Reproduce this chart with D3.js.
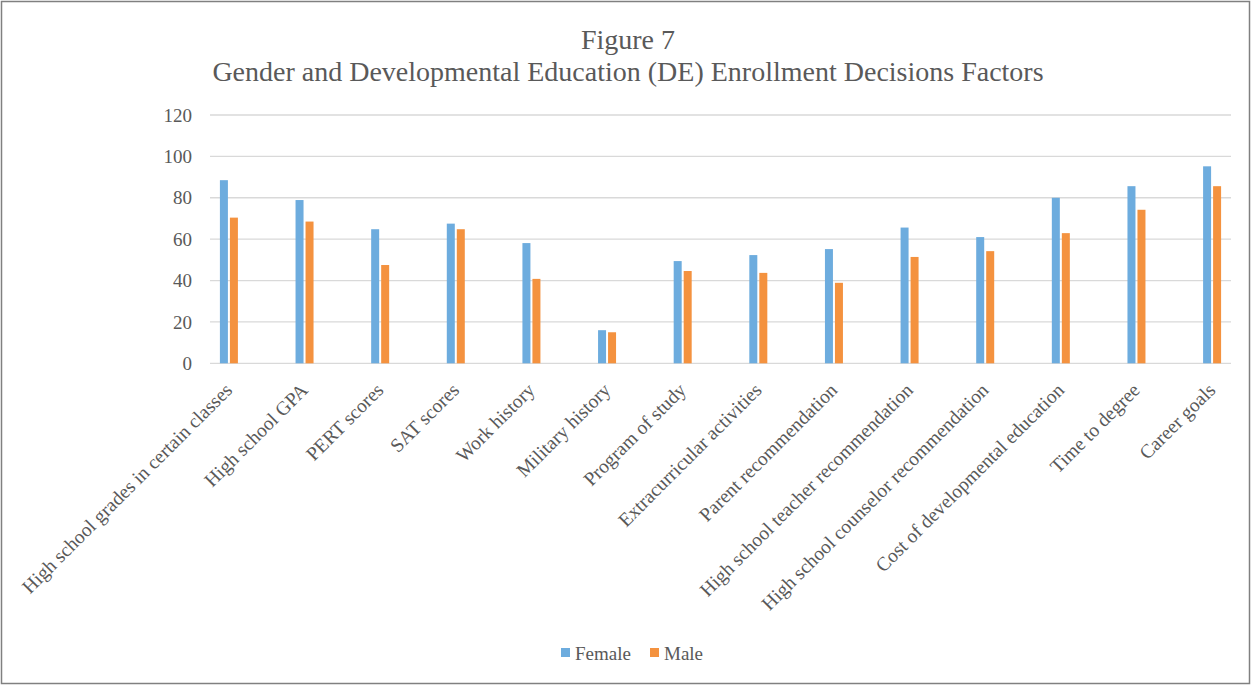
<!DOCTYPE html>
<html>
<head>
<meta charset="utf-8">
<script src="https://cdn.jsdelivr.net/npm/d3@7"></script>
<style>
  html, body { margin: 0; padding: 0; background: #fff; }
  svg { display: block; }
  svg text { font-family: "Liberation Serif", "Times New Roman", serif !important; }
</style>
</head>
<body>
<svg id="chart" width="1252" height="686"></svg>
<script>
// Enrollment decision factors, percent of respondents by gender
const categories = [
  "High school grades in certain classes",
  "High school GPA",
  "PERT scores",
  "SAT scores",
  "Work history",
  "Military history",
  "Program of study",
  "Extracurricular activities",
  "Parent recommendation",
  "High school teacher recommendation",
  "High school counselor recommendation",
  "Cost of developmental education",
  "Time to degree",
  "Career goals"
];
const seriesNames = ["Female", "Male"];
const female = [88.5, 78.9, 64.8, 67.5, 58.1, 16.0, 49.4, 52.3, 55.2, 65.6, 61.0, 80.0, 85.6, 95.2];
const male   = [70.4, 68.5, 47.5, 64.8, 40.8, 15.0, 44.6, 43.7, 38.9, 51.4, 54.2, 62.9, 74.2, 85.6];
const yTicks = [0, 20, 40, 60, 80, 100, 120];
const titleLines = ["Figure 7", "Gender and Developmental Education (DE) Enrollment Decisions Factors"];

const colors = { Female: "#6DACDE", Male: "#F4923F" };
const textColor = "#595959";
const serif = "'Liberation Serif', 'Times New Roman', serif";

const svg = d3.select("#chart");
const W = 1252, H = 686;
const plot = { left: 210, right: 1231, top: 115, bottom: 363.3 };

// outer frame
svg.append("rect")
  .attr("x", 1.5).attr("y", 1.5)
  .attr("width", W - 4).attr("height", H - 4)
  .attr("fill", "#fff").attr("stroke", "#808080").attr("stroke-width", 1.5);

// title
const title = svg.append("text")
  .attr("text-anchor", "middle")
  .attr("fill", textColor)
  .style("font-family", serif)
  .attr("font-size", 28);
titleLines.forEach((t, i) => {
  title.append("tspan").attr("x", 628).attr("y", 49 + i * 32).text(t);
});

const x = d3.scalePoint().domain(categories).range([plot.left, plot.right]).padding(0.25);
const xs = d3.scaleBand().domain(seriesNames).range([-9, 9]).paddingInner(0.2);
const y = d3.scaleLinear().domain([0, 120]).range([plot.bottom, plot.top]);

// horizontal gridlines
svg.append("g")
  .selectAll("line")
  .data(yTicks)
  .join("line")
  .attr("x1", plot.left).attr("x2", plot.right)
  .attr("y1", d => y(d)).attr("y2", d => y(d))
  .attr("stroke", "#D9D9D9").attr("stroke-width", 1.3);

// y axis labels
const yAxis = svg.append("g")
  .attr("transform", `translate(${plot.left - 18},0)`)
  .call(d3.axisLeft(y).tickValues(yTicks).tickSize(0).tickPadding(0));
yAxis.attr("font-family", null).attr("font-size", null);
yAxis.select(".domain").remove();
yAxis.selectAll("text")
  .attr("fill", textColor)
  .attr("font-size", 19)
  .style("font-family", serif);

// bars
const rows = categories.map((c, i) => ({ cat: c, values: [
  { s: "Female", v: female[i] },
  { s: "Male", v: male[i] }
]}));

const groups = svg.append("g")
  .selectAll("g")
  .data(rows)
  .join("g")
  .attr("transform", d => `translate(${x(d.cat)},0)`);

groups.selectAll("rect")
  .data(d => d.values)
  .join("rect")
  .attr("x", d => xs(d.s))
  .attr("width", xs.bandwidth())
  .attr("y", d => y(d.v))
  .attr("height", d => y(0) - y(d.v))
  .attr("fill", d => colors[d.s]);

// category labels, rotated
const xAxis = svg.append("g")
  .attr("transform", `translate(0,${plot.bottom})`)
  .call(d3.axisBottom(x).tickSize(0).tickPadding(0));
xAxis.attr("font-family", null).attr("font-size", null);
xAxis.select(".domain").remove();
xAxis.selectAll("text")
  .attr("fill", textColor)
  .attr("font-size", 19.5)
  .style("font-family", serif)
  .attr("text-anchor", "end")
  .attr("dy", null)
  .attr("y", 0)
  .attr("transform", "translate(4,28) rotate(-45)");

// legend
const legend = svg.append("g").attr("transform", "translate(561,660)");
const legendX = [0, 89];
seriesNames.forEach((s, i) => {
  const g = legend.append("g").attr("transform", `translate(${legendX[i]},0)`);
  g.append("rect").attr("x", 0).attr("y", -12).attr("width", 9).attr("height", 9).attr("fill", colors[s]);
  g.append("text").attr("x", 14).attr("y", 0).attr("fill", textColor)
    .attr("font-size", 19).style("font-family", serif).text(s);
});
</script>
</body>
</html>
